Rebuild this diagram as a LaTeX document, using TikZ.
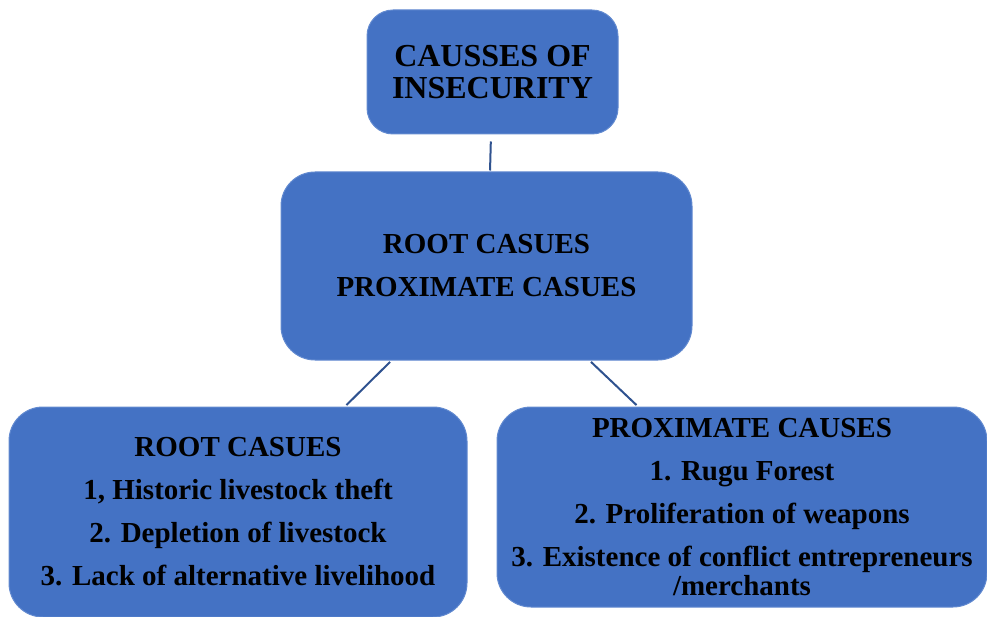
\documentclass[tikz,border=0pt]{standalone}
\usepackage{fontspec}
\setmainfont{Liberation Serif}
\begin{document}
\begin{tikzpicture}[x=1pt,y=1pt,yscale=-1,
  box/.style={fill=boxBlue, draw=boxEdge, line width=1pt, rounded corners=30pt,
    align=center, inner sep=0pt, font=\bfseries\fontsize{29}{43}\selectfont},
  link/.style={draw=linkBlue, line width=2pt}]

% --- CONFIGURATION ---
\definecolor{boxBlue}{RGB}{68,114,196}   % Box fill
\definecolor{boxEdge}{RGB}{98,138,208}   % Box outline
\definecolor{linkBlue}{RGB}{47,82,143}   % Connector

\useasboundingbox (0,0) rectangle (987,617);

% --- TOP BOX ---
\node[box, rounded corners=26pt, minimum width=251pt, minimum height=124pt,
  font=\bfseries\fontsize{32}{32}\selectfont] (causes) at (492.5,72)
  {CAUSSES OF\\INSECURITY};

% --- MIDDLE BOX ---
\node[box, rounded corners=34pt, minimum width=411pt, minimum height=188pt] (types) at (486.5,266)
  {ROOT CASUES\\PROXIMATE CASUES};

% --- BOTTOM BOXES ---
\node[box, rounded corners=34pt, minimum width=458pt, minimum height=210pt] (root) at (238,512)
  {ROOT CASUES\\1, Historic livestock theft\\2. Depletion of livestock\\3. Lack of alternative livelihood};

\node[box, rounded corners=34pt, minimum width=490pt, minimum height=200pt] (prox) at (742,507)
  {PROXIMATE CAUSES\\1. Rugu Forest\\2. Proliferation of weapons\\3. Existence of conflict entrepreneurs\\[-14pt]/merchants};

% --- CONNECTORS ---
\draw[link, shorten <=7pt, shorten >=1pt] ([xshift=-1.5pt]causes.south) -- ([xshift=3.5pt]types.north);
\draw[link, shorten <=2pt, shorten >=2pt] ([xshift=-95pt]types.south) -- ([xshift=107pt]root.north);
\draw[link, shorten <=2pt, shorten >=2pt] ([xshift=103pt]types.south) -- ([xshift=-104pt]prox.north);

\end{tikzpicture}
\end{document}
